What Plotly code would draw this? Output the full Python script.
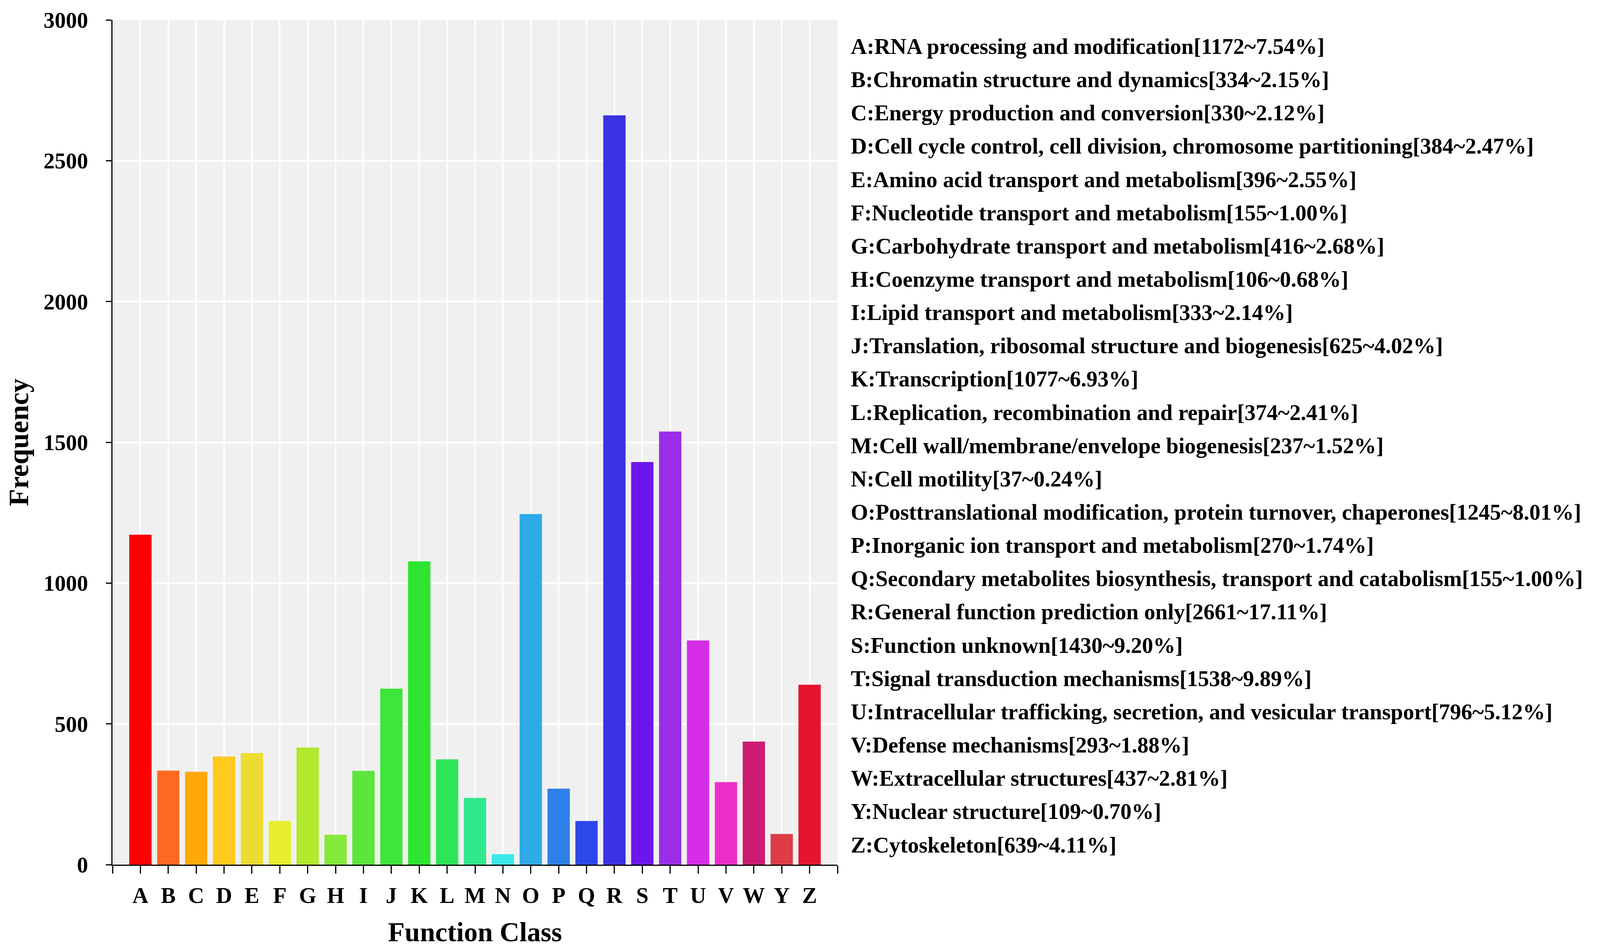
import numpy as np
import plotly.graph_objects as go

# COG function classes
categories = ["A", "B", "C", "D", "E", "F", "G", "H", "I", "J", "K", "L", "M",
              "N", "O", "P", "Q", "R", "S", "T", "U", "V", "W", "Y", "Z"]

descriptions = [
    "RNA processing and modification",
    "Chromatin structure and dynamics",
    "Energy production and conversion",
    "Cell cycle control, cell division, chromosome partitioning",
    "Amino acid transport and metabolism",
    "Nucleotide transport and metabolism",
    "Carbohydrate transport and metabolism",
    "Coenzyme transport and metabolism",
    "Lipid transport and metabolism",
    "Translation, ribosomal structure and biogenesis",
    "Transcription",
    "Replication, recombination and repair",
    "Cell wall/membrane/envelope biogenesis",
    "Cell motility",
    "Posttranslational modification, protein turnover, chaperones",
    "Inorganic ion transport and metabolism",
    "Secondary metabolites biosynthesis, transport and catabolism",
    "General function prediction only",
    "Function unknown",
    "Signal transduction mechanisms",
    "Intracellular trafficking, secretion, and vesicular transport",
    "Defense mechanisms",
    "Extracellular structures",
    "Nuclear structure",
    "Cytoskeleton",
]

counts = [1172, 334, 330, 384, 396, 155, 416, 106, 333, 625, 1077, 374, 237,
          37, 1245, 270, 155, 2661, 1430, 1538, 796, 293, 437, 109, 639]

percents = ["7.54", "2.15", "2.12", "2.47", "2.55", "1.00", "2.68", "0.68",
            "2.14", "4.02", "6.93", "2.41", "1.52", "0.24", "8.01", "1.74",
            "1.00", "17.11", "9.20", "9.89", "5.12", "1.88", "2.81", "0.70",
            "4.11"]

colors = ["#FF0000", "#FF6A22", "#FFA80A", "#FFC91E", "#EEDB30", "#E6EE2E",
          "#B2E82E", "#86E83A", "#5CE63A", "#3EE53A", "#2DE52E", "#2EE55A",
          "#31E88D", "#3CE8E8", "#2EAAE8", "#2D80E8", "#2D48E8", "#3A33E3",
          "#6C16EE", "#9A2EE6", "#D62EE6", "#EE2EC8", "#CC1B72", "#DE3C46",
          "#E6152F"]

y_ticks = [0, 500, 1000, 1500, 2000, 2500, 3000]

# the page is 4096 css px wide, figure sits at an 8px body margin
W, H = 4080, 2418
L, R, T, B = 280, 1944, 24, 213
FONT = "Liberation Serif"

xpos = np.arange(len(categories))

fig = go.Figure()
fig.add_trace(go.Bar(
    x=xpos, y=counts, marker=dict(color=colors, line=dict(width=0)),
    width=0.8, showlegend=False,
))

# tick at each edge of the axis plus one per class
tickvals = list(range(-1, len(categories) + 1))
ticktext = [""] + categories + [""]

fig.update_xaxes(
    range=[-1, len(categories)], tickmode="array", tickvals=tickvals,
    ticktext=ticktext, ticks="outside", ticklen=20, tickwidth=3,
    tickcolor="black", showline=True, linecolor="black", linewidth=3,
    showgrid=True, gridcolor="white", gridwidth=4, zeroline=False,
    tickfont=dict(family=FONT, size=57, color="black", weight="bold"),
    ticklabelstandoff=7,
    title=dict(text="Function Class", standoff=38,
               font=dict(family=FONT, size=70, color="black", weight="bold")),
)
fig.update_yaxes(
    range=[0, 3000], tickmode="array", tickvals=y_ticks,
    ticks="outside", ticklen=14, tickwidth=3, tickcolor="black",
    showline=True, linecolor="black", linewidth=3,
    showgrid=True, gridcolor="white", gridwidth=5, zeroline=False,
    tickfont=dict(family=FONT, size=57, color="black", weight="bold"),
    ticklabelstandoff=34, ticklabeloverflow="allow",
    title=dict(text="Frequency", standoff=22,
               font=dict(family=FONT, size=72, color="black", weight="bold")),
)

# class descriptions listed on the right
plot_w = W - L - R
plot_h = H - T - B
leg_x = (2168 - L) / plot_w
leg_top, leg_step = 92, 85.9
for i, (c, d, n, p) in enumerate(zip(categories, descriptions, counts, percents)):
    ypx = leg_top + i * leg_step
    fig.add_annotation(
        text=f"{c}:{d}[{n}~{p}%]", xref="paper", yref="paper",
        x=leg_x, y=(H - B - ypx) / plot_h, xanchor="left", yanchor="middle",
        showarrow=False,
        font=dict(family=FONT, size=57, color="black", weight="bold"),
    )

fig.update_layout(
    width=W, height=H, autosize=False,
    margin=dict(l=L, r=R, t=T, b=B),
    plot_bgcolor="#F0F0F0", paper_bgcolor="white",
    bargap=0.2,
)

fig.write_html("out.html")
